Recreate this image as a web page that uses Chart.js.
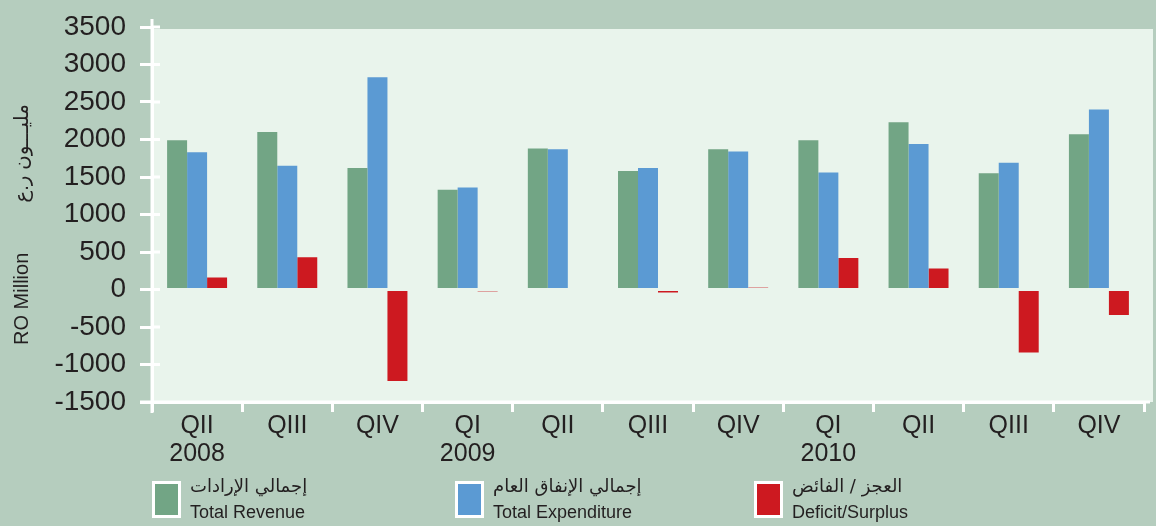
<!DOCTYPE html>
<html><head><meta charset="utf-8">
<script src="https://cdn.jsdelivr.net/npm/chart.js@4"></script>
<style>
html,body{margin:0;padding:0;background:#b5cdbe;}
#wrap{position:relative;width:1156px;height:526px;overflow:hidden;background:#b5cdbe;}
canvas{position:absolute;left:0;top:0;}
.lg{position:absolute;top:474px;height:52px;}
.box{position:absolute;width:23px;height:31px;border:3px solid #fff;top:7px;left:0;}
.ar{position:absolute;left:38px;top:0px;font:18px "DejaVu Sans",sans-serif;color:#231f20;white-space:nowrap;line-height:24px;}
.en{position:absolute;left:38px;top:27px;font:18px "Liberation Sans Narrow","Liberation Sans",Arial,sans-serif;color:#231f20;white-space:nowrap;line-height:22px;}
</style>
</head><body>
<div id="wrap"><canvas id="c" width="1156" height="526"></canvas><div id="legend"></div></div>
<script>
const quarters = ['QII','QIII','QIV','QI','QII','QIII','QIV','QI','QII','QIII','QIV'];
const years = ['2008','','','2009','','','','2010','','',''];
const totalRevenue = [1990,2100,1620,1330,1880,1580,1870,1990,2230,1550,2070];
const totalExpenditure = [1830,1650,2830,1360,1870,1620,1840,1560,1940,1690,2400];
const deficitSurplus = [160,430,-1220,-25,20,-40,25,420,280,-840,-340];
const seriesNames = ['Total Revenue','Total Expenditure','Deficit/Surplus'];
const seriesNamesAr = ['إجمالي الإرادات','إجمالي الإنفاق العام','العجز / الفائض'];
const seriesColors = ['#72a585','#5b9ad3','#cd1920'];
const yMin = -1500, yMax = 3500, yStep = 500;
const yTitleEn = 'RO Million';
const yTitleAr = 'مليـــون ر.ع';

const labels = quarters.map((q,i)=> years[i] ? [q, years[i]] : q);
const seriesData = [totalRevenue, totalExpenditure, deficitSurplus];

const plotBg = {
  id:'plotBg',
  beforeDraw(c){
    const {ctx, chartArea:a} = c;
    ctx.save();
    ctx.fillStyle = '#e9f4ec';
    ctx.fillRect(a.left, a.top+2, a.right - a.left + 9, a.bottom - a.top - 2);
    ctx.restore();
  }
};
const axisExtras = {
  id:'axisExtras',
  afterDraw(c){
    const {ctx, chartArea:a} = c;
    const ys = c.scales.y;
    ctx.save();
    ctx.strokeStyle = '#fff';
    ctx.lineWidth = 3;
    ctx.beginPath();
    ctx.moveTo(a.left, a.top - 8); ctx.lineTo(a.left, a.bottom + 11);
    ctx.moveTo(a.left - 12, a.bottom); ctx.lineTo(a.right + 6, a.bottom);
    ys.ticks.forEach((t,i)=>{
      const y = ys.getPixelForTick(i);
      ctx.moveTo(a.left, y); ctx.lineTo(a.left + 8, y);
    });
    ctx.stroke();
    ctx.restore();
  }
};

const fontNarrow = '"Liberation Sans Narrow","Liberation Sans",Arial,"DejaVu Sans",sans-serif';

new Chart(document.getElementById('c'), {
  type:'bar',
  data:{
    labels: labels,
    datasets: seriesData.map((d,i)=>({label:seriesNames[i], data:d, backgroundColor:seriesColors[i], borderWidth:0}))
  },
  options:{
    responsive:false,
    animation:false,
    layout:{padding:{top:27,right:12,left:0,bottom:0}},
    plugins:{legend:{display:false}, tooltip:{enabled:false}},
    datasets:{bar:{categoryPercentage:0.665, barPercentage:1}},
    scales:{
      x:{
        grid:{offset:true, drawOnChartArea:false, tickLength:10, color:'#fff', lineWidth:3},
        border:{color:'#fff', width:3},
        ticks:{color:'#231f20', font:{family:fontNarrow, size:25, lineHeight:1.12}, padding:0, maxRotation:0, autoSkip:false},
        afterFit(s){ s.height = 124; }
      },
      y:{
        min:yMin, max:yMax,
        ticks:{stepSize:yStep, color:'#231f20', font:{family:'"Liberation Sans",Arial,sans-serif', size:28, lineHeight:0.9}, padding:14,
               callback:(v)=>String(v)},
        grid:{drawOnChartArea:false, tickLength:12, color:'#fff', lineWidth:3},
        border:{color:'#fff', width:3},
        title:{display:true, text: yTitleEn + '\u2003\u2003\u2002' + yTitleAr + '\u2003', color:'#231f20',
               font:{family:fontNarrow, size:20}, padding:{top:10,bottom:0}},
        afterFit(s){ s.width = 152; }
      }
    }
  },
  plugins:[plotBg, axisExtras]
});

const legendLefts = [152, 455, 754];
const lg = document.getElementById('legend');
seriesNames.forEach((n,i)=>{
  const d = document.createElement('div');
  d.className = 'lg';
  d.style.left = legendLefts[i] + 'px';
  d.innerHTML = '<div class="box" style="background:'+seriesColors[i]+'"></div>'+
    '<div class="ar"></div><div class="en"></div>';
  d.querySelector('.ar').textContent = seriesNamesAr[i];
  d.querySelector('.en').textContent = n;
  lg.appendChild(d);
});
</script>
</body></html>
